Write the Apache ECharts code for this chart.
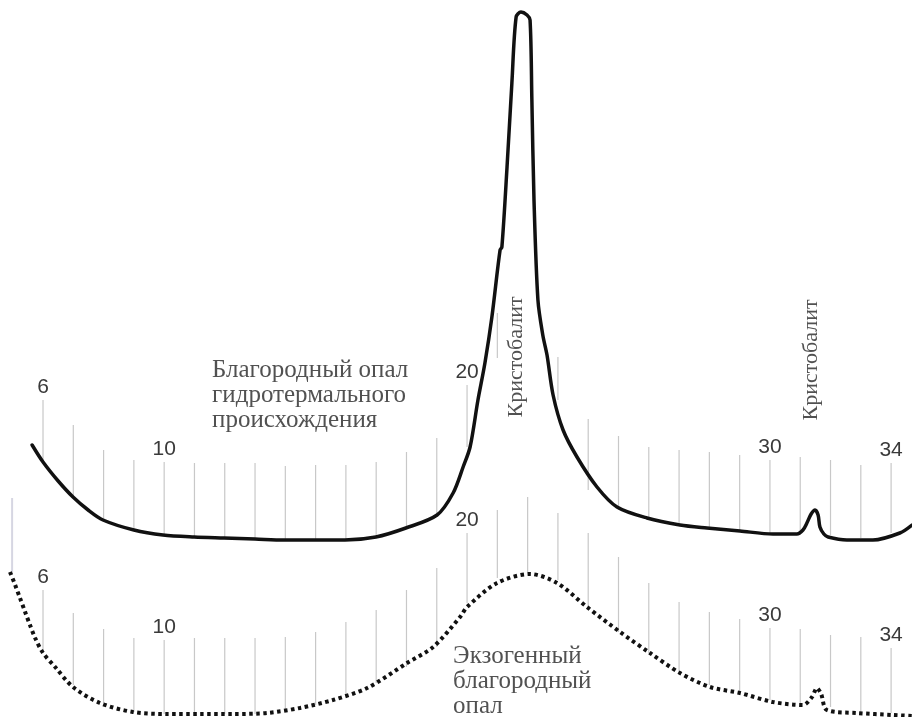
<!DOCTYPE html>
<html>
<head>
<meta charset="utf-8">
<script src="https://cdn.jsdelivr.net/npm/echarts@6/dist/echarts.min.js"></script>
<style>
html,body{margin:0;padding:0;background:#fff;}
#chart{width:912px;height:717px;}
</style>
</head>
<body>
<div id="chart"></div>
<script>
// ---- Data (2θ, degrees; intensity in arbitrary units, patterns offset vertically) ----
// Upper pattern: hydrothermal noble opal (solid)
const upperDeg = [5.64,6.00,6.50,6.99,7.49,7.98,9.00,9.96,10.99,11.98,13.00,13.96,14.95,15.97,16.99,17.98,19.01,19.54,19.87,20.10,20.36,20.59,20.82,21.09,21.15,21.32,21.48,21.62,21.78,21.98,22.08,22.14,22.21,22.34,22.50,22.64,22.84,23.17,23.63,24.29,24.95,25.94,27.03,27.92,29.01,30.10,30.89,31.09,31.22,31.36,31.49,31.59,31.65,31.78,31.92,32.54,33.40,34.29,34.69];
const upperInt = [272,255,236,220,207,197,187,182,180,179,178,177,177,177,180,189,202,224,250,270,317,354,400,467,470,550,634,700,705,702,697,617,517,417,382,362,322,287,260,230,210,199,192,189,186,183,183,187,194,203,207,202,190,183,180,177,177,184,192];

// Lower pattern: exogenous noble opal (dotted)
const lowerDeg = [4.91,5.08,5.24,5.41,5.57,5.74,6.00,6.40,6.99,7.88,8.97,10.09,11.18,12.27,13.40,14.48,15.57,16.70,18.02,18.88,19.77,20.00,20.99,22.08,22.97,23.96,25.05,26.04,27.03,28.02,29.01,30.10,31.09,31.39,31.55,31.69,31.88,32.87,34.06,34.69];
const lowerInt = [145,132,119,105,92,79,64,50,30,14,5,3,3,3,4,9,17,29,54,70,100,110,134,143,134,110,85,64,44,30,24,15,12,20,29,23,7,4,2,1];

// Scale ticks (2θ degrees) with their top / bottom intensity
const upperTickDeg = [6,7,8,9,10,11,12,13,14,15,16,17,18,19,20,21,23,24,25,26,27,28,29,30,31,32,33,34];
const upperTickTop = [317,292,267,257,255,254,254,254,251,252,252,255,265,279,332,404,360,298,281,270,267,265,262,257,260,257,252,254];
const upperTickBot = [254,220,196,187,182,180,179,178,177,177,177,180,189,202,270,359,317,227,207,199,194,190,187,184,184,182,179,184];

const lowerTickDeg = [6,7,8,9,10,11,12,13,14,15,16,17,18,19,20,21,22,23,24,25,26,27,28,29,30,31,32,33,34];
const lowerTickTop = [127,104,88,79,77,79,79,79,80,85,95,107,127,149,184,207,220,204,184,160,134,115,105,98,89,88,82,80,69];
const lowerTickBot = [64,32,14,5,3,4,3,3,5,12,22,34,50,70,114,139,145,137,110,85,64,44,32,22,17,14,10,5,4];

const tickLabels = ['6','10','20','30','34'];

// Faint edge line of the original frame [deg, top, bottom]
const edgeLine = [4.98, 219, 145];

// Annotations
const upperTitle = 'Благородный опал\nгидротермального\nпроисхождения';
const lowerTitle = 'Экзогенный\nблагородный\nопал';
const peakName = 'Кристобалит';
const upperTitlePos = [11.58, 359];
const lowerTitlePos = [19.54, 73];
const peakLabelPos = [[21.62, 360], [31.36, 357]];

// ---- Build ----
const zip = (a, b) => a.map((v, i) => [v, b[i]]);

function tickSeries(deg, top, bot, name) {
  const data = deg.map((d, i) => [d, top[i], bot[i]]);
  if (name === 'upper') data.push([edgeLine[0], edgeLine[1], edgeLine[2], 'edge']);
  return {
    type: 'custom',
    silent: true,
    z: 1,
    data: data,
    renderItem: function (params, api) {
      const x = api.value(0), t = api.value(1), b = api.value(2);
      const p1 = api.coord([x, t]);
      const p2 = api.coord([x, b]);
      const isEdge = data[params.dataIndex][3] === 'edge';
      const children = [{
        type: 'line',
        shape: { x1: p1[0], y1: p1[1], x2: p2[0], y2: p2[1] },
        style: { stroke: isEdge ? '#d6d6e2' : '#c8c8c8', lineWidth: isEdge ? 2 : 1.2 }
      }];
      const lbl = String(x);
      if (!isEdge && tickLabels.indexOf(lbl) >= 0) {
        children.push({
          type: 'text',
          style: {
            text: lbl, x: p1[0], y: p1[1] - 2,
            align: 'center', verticalAlign: 'bottom',
            font: '21px "Liberation Sans", Arial, sans-serif',
            fill: '#3a3a3a'
          }
        });
      }
      return { type: 'group', children: children };
    }
  };
}

const chart = echarts.init(document.getElementById('chart'), null, { renderer: 'canvas' });
chart.setOption({
  animation: false,
  backgroundColor: '#ffffff',
  grid: { left: 0, right: 0, top: 0, bottom: 0 },
  xAxis: { type: 'value', min: 4.58, max: 34.69, show: false },
  yAxis: { type: 'value', min: 0, max: 717, show: false },
  series: [
    tickSeries(upperTickDeg, upperTickTop, upperTickBot, 'upper'),
    tickSeries(lowerTickDeg, lowerTickTop, lowerTickBot, 'lower'),
    {
      type: 'line', z: 3, silent: true, showSymbol: false, symbol: 'none',
      smooth: 0.3,
      data: zip(upperDeg, upperInt),
      lineStyle: { color: '#111', width: 3.5, join: 'round', cap: 'round' }
    },
    {
      type: 'line', z: 3, silent: true, showSymbol: false, symbol: 'none',
      smooth: 0.3,
      data: zip(lowerDeg, lowerInt),
      lineStyle: { color: '#111', width: 4, type: [3.5, 3.5], cap: 'butt' }
    },
    {
      type: 'scatter', z: 4, silent: true, symbolSize: 0,
      data: [upperTitlePos, lowerTitlePos].map((p, i) => ({ value: p, name: i === 0 ? upperTitle : lowerTitle })),
      label: {
        show: true, position: [0, 0], align: 'left', verticalAlign: 'top',
        formatter: p => p.name,
        fontFamily: '"Liberation Serif", "Times New Roman", serif',
        fontSize: 25, lineHeight: 25, color: '#262626'
      }
    },
    {
      type: 'scatter', z: 4, silent: true, symbolSize: 0,
      data: peakLabelPos.map(p => ({ value: p, name: peakName })),
      label: {
        show: true, position: 'inside', rotate: 90, align: 'center', verticalAlign: 'middle',
        formatter: p => p.name,
        fontFamily: '"Liberation Serif", "Times New Roman", serif',
        fontSize: 22, color: '#262626'
      }
    }
  ]
});
</script>
</body>
</html>
